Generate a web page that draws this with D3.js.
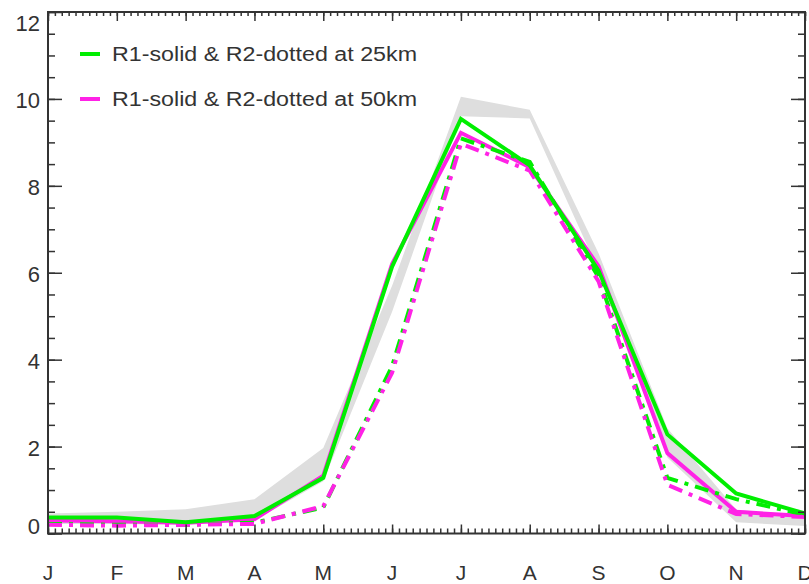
<!DOCTYPE html>
<html lang="en">
<head>
  <meta charset="UTF-8">
  <title>Monthly cycle</title>
  <style>
    * { margin: 0; padding: 0; box-sizing: border-box; }
    body { background: #fff; font-family: "Liberation Sans", Arial, sans-serif; }
    svg { display: block; }
  </style>
</head>
<body>
  <div id="chart"></div>

  <script src="https://d3js.org/d3.v7.min.js"></script>
  <script>
// data
var months = ["J", "F", "M", "A", "M", "J", "J", "A", "S", "O", "N", "D"];
var yTicks = [0, 2, 4, 6, 8, 10, 12];

var bandUpper = [0.46, 0.50, 0.56, 0.79, 1.97, 5.70, 10.05, 9.75, 6.45, 2.42, 0.55, 0.38];
var bandLower = [0.22, 0.22, 0.20, 0.30, 1.20, 5.10, 9.60, 9.55, 6.05, 1.75, 0.26, 0.17];

var r1at25 = [0.37, 0.37, 0.26, 0.40, 1.28, 6.14, 9.54, 8.47, 6.05, 2.28, 0.92, 0.46];
var r1at50 = [0.30, 0.28, 0.25, 0.33, 1.33, 6.20, 9.22, 8.43, 6.15, 1.85, 0.50, 0.40];
var r2at25 = [0.22, 0.20, 0.20, 0.25, 0.60, 3.85, 9.09, 8.55, 5.90, 1.28, 0.79, 0.43];
var r2at50 = [0.20, 0.18, 0.20, 0.22, 0.63, 3.70, 8.97, 8.35, 5.80, 1.12, 0.45, 0.38];

var legendLabels = ["R1-solid & R2-dotted at 25km", "R1-solid & R2-dotted at 50km"];

var GREEN = "#00ee00", MAGENTA = "#ff22e6", AXIS = "#333";

var W = 809, H = 584;
// plot box (window.top is reserved, so keep these in an object)
var box = {left: 48, right: 805, top: 12, bottom: 533.5};

var svg = d3.select("#chart").append("svg")
  .attr("width", W)
  .attr("height", H);

var x = d3.scaleLinear().domain([1, 12]).range([box.left, box.right]);
var y = d3.scaleLinear().domain([0, 12]).range([box.bottom, box.top]);

var idx = d3.range(1, 13);

// grey spread
var area = d3.area()
  .x(function(d, i) { return x(i + 1); })
  .y0(function(d, i) { return y(bandLower[i]); })
  .y1(function(d) { return y(d); });

svg.append("path")
  .datum(bandUpper)
  .attr("d", area)
  .attr("fill", "#dedede");

var line = d3.line()
  .x(function(d, i) { return x(i + 1); })
  .y(function(d) { return y(d); });

function drawLine(values, color, dashed) {
  svg.append("path")
    .datum(values)
    .attr("d", line)
    .attr("fill", "none")
    .attr("stroke", color)
    .attr("stroke-width", 4)
    .attr("stroke-linejoin", "miter")
    .attr("stroke-dasharray", dashed ? "14,7,4,7" : null);
}

drawLine(r1at50, MAGENTA, false);
drawLine(r2at25, GREEN, true);
drawLine(r2at50, MAGENTA, true);
drawLine(r1at25, GREEN, false);

// axes: ticks drawn inward, IDL style
var minorX = d3.range(1, 12.001, 0.1);
var minorY = d3.range(0, 12.001, 0.5);

function axisGroup(axis, tx, ty) {
  var g = svg.append("g")
    .attr("transform", "translate(" + tx + "," + ty + ")")
    .call(axis);
  g.selectAll("path.domain").remove();
  g.selectAll("line").attr("stroke", AXIS).attr("stroke-width", 1.5);
  g.selectAll("text").remove();
  return g;
}

axisGroup(d3.axisBottom(x).tickValues(minorX).tickSize(-5).tickFormat(""), 0, box.bottom);
axisGroup(d3.axisBottom(x).tickValues(idx).tickSize(-9).tickFormat(""), 0, box.bottom);
axisGroup(d3.axisTop(x).tickValues(minorX).tickSize(-4).tickFormat(""), 0, box.top);
axisGroup(d3.axisTop(x).tickValues(idx).tickSize(-9).tickFormat(""), 0, box.top);
axisGroup(d3.axisLeft(y).tickValues(minorY).tickSize(-7).tickFormat(""), box.left, 0);
axisGroup(d3.axisLeft(y).tickValues(yTicks).tickSize(-14).tickFormat(""), box.left, 0);
axisGroup(d3.axisRight(y).tickValues(minorY).tickSize(-7).tickFormat(""), box.right, 0);
axisGroup(d3.axisRight(y).tickValues(yTicks).tickSize(-14).tickFormat(""), box.right, 0);

// frame
svg.append("rect")
  .attr("x", box.left)
  .attr("y", box.top)
  .attr("width", box.right - box.left)
  .attr("height", box.bottom - box.top)
  .attr("fill", "none")
  .attr("stroke", AXIS)
  .attr("stroke-width", 2);

// tick labels
svg.selectAll("text.ylab")
  .data(yTicks)
  .enter()
  .append("text")
    .attr("class", "ylab")
    .attr("x", 40)
    .attr("y", function(d) { return Math.min(Math.max(y(d) + 1, 23), 526) + 8; })
    .attr("text-anchor", "end")
    .attr("fill", AXIS)
    .style("font-size", "22px")
    .text(function(d) { return d; });

svg.selectAll("text.xlab")
  .data(months)
  .enter()
  .append("text")
    .attr("class", "xlab")
    .attr("x", function(d, i) { return x(i + 1); })
    .attr("y", 580)
    .attr("text-anchor", "middle")
    .attr("fill", AXIS)
    .style("font-size", "21px")
    .text(function(d) { return d; });

// legend
var legendColors = [GREEN, MAGENTA];
var leg = svg.selectAll("g.leg")
  .data(legendLabels)
  .enter()
  .append("g")
    .attr("class", "leg")
    .attr("transform", function(d, i) { return "translate(80," + (54 + i * 45) + ")"; });

leg.append("line")
  .attr("x1", 0).attr("x2", 20)
  .attr("stroke", function(d, i) { return legendColors[i]; })
  .attr("stroke-width", 4);

leg.append("text")
  .attr("x", 32)
  .attr("y", 7)
  .attr("fill", AXIS)
  .attr("textLength", 305)
  .attr("lengthAdjust", "spacingAndGlyphs")
  .style("font-size", "20px")
  .text(function(d) { return d; });
  </script>
</body>
</html>
